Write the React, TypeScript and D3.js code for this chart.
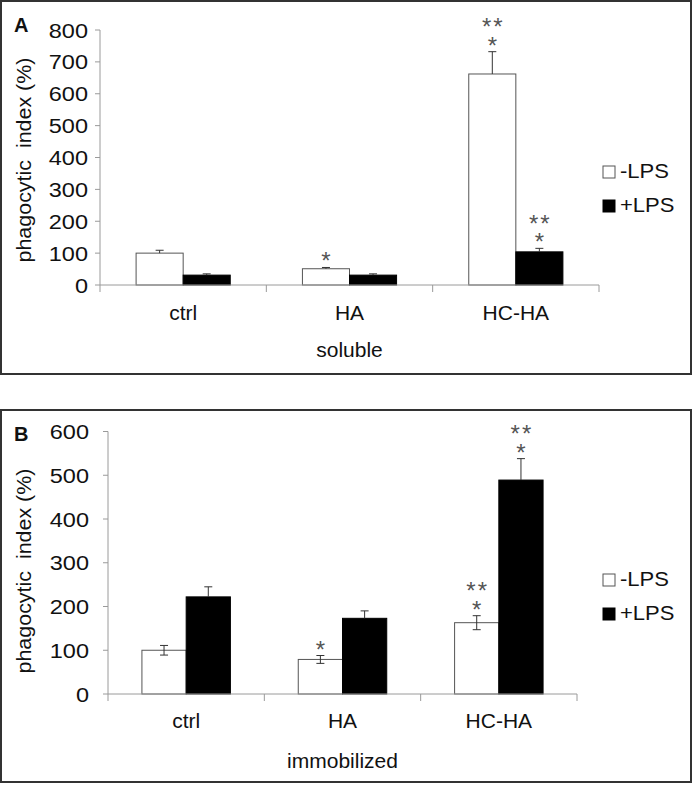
import React from "react";
import * as d3 from "d3";

const categories = ["ctrl", "HA", "HC-HA"];
const seriesNames = ["-LPS", "+LPS"];

// Panel A (soluble)
const solubleMinus = [100, 51, 662];
const solubleMinusErr = [9, 4, 70];
const solublePlus = [31, 31, 104];
const solublePlusErr = [4, 4, 11];
const solubleTicks = [0, 100, 200, 300, 400, 500, 600, 700, 800];
const solubleStars = [["", ""], ["*", ""], ["**|*", "**|*"]];

// Panel B (immobilized)
const immobMinus = [100, 79, 163];
const immobMinusErr = [11, 9, 16];
const immobPlus = [222, 173, 489];
const immobPlusErr = [23, 17, 49];
const immobTicks = [0, 100, 200, 300, 400, 500, 600];
const immobStars = [["", ""], ["*", ""], ["**|*", "**|*"]];

const FONT = "'Liberation Sans', Arial, Helvetica, sans-serif";

type PanelProps = {
  letter: string;
  xLabel: string;
  minus: number[];
  minusErr: number[];
  plus: number[];
  plusErr: number[];
  ticks: number[];
  stars: string[][];
  box: { x: number; y: number; w: number; h: number };
  x0: number;
  x1: number;
  yBottom: number;
  yTop: number;
  lowerErr: boolean;
  catBaseline: number;
  titleBaseline: number;
  legendY: number;
  letterY: number;
  yLabelCenter: number;
  tickLabelX: number;
};

function Panel(p: PanelProps) {
  const yMax = p.ticks[p.ticks.length - 1];
  const y = d3.scaleLinear().domain([0, yMax]).range([p.yBottom, p.yTop]);
  const x = d3.scaleBand<string>().domain(categories).range([p.x0, p.x1]);
  const bw = x.bandwidth() * 0.283;
  const values = [p.minus, p.plus];
  const errs = [p.minusErr, p.plusErr];
  const axisColor = "#9a9a9a";
  const capW = 8;
  const starGap = 18.5;

  return (
    <g>
      <rect x={p.box.x} y={p.box.y} width={p.box.w} height={p.box.h} fill="white" stroke="#333" strokeWidth={2} />
      <text x={14} y={p.letterY} fontFamily={FONT} fontWeight="bold" fontSize={20} fill="#111">{p.letter}</text>
      <text
        transform={`translate(31,${p.yLabelCenter}) rotate(-90) scale(1.1,1)`}
        textAnchor="middle"
        fontFamily={FONT}
        fontSize={19.5}
        fill="#111"
        style={{ whiteSpace: "pre" }}
      >
        phagocytic  index (%)
      </text>
      {/* y axis */}
      <line x1={p.x0} x2={p.x0} y1={y(yMax)} y2={y(0)} stroke={axisColor} strokeWidth={1} />
      {p.ticks.map((t) => (
        <g key={t}>
          <line x1={p.x0 - 5} x2={p.x0} y1={y(t)} y2={y(t)} stroke={axisColor} strokeWidth={1} />
          <text
            transform={`translate(${p.tickLabelX},${y(t) + 7.5}) scale(1.12,1)`}
            textAnchor="end"
            fontFamily={FONT}
            fontSize={21}
            fill="#111"
          >
            {t}
          </text>
        </g>
      ))}
      {/* bars */}
      {categories.map((c, i) => {
        const cx = (x(c) as number) + x.bandwidth() / 2;
        return (
          <g key={c}>
            {values.map((vals, s) => {
              const bx = cx - bw + s * bw;
              const v = vals[i];
              const e = errs[s][i];
              const midX = bx + bw / 2;
              const top = y(v);
              const errTop = y(v + e);
              const errBot = y(v - e);
              const showLower = p.lowerErr && s === 0;
              const starLines = p.stars[i][s] ? p.stars[i][s].split("|") : [];
              return (
                <g key={s}>
                  <rect
                    x={bx}
                    y={top}
                    width={bw}
                    height={y(0) - top}
                    fill={s === 0 ? "white" : "black"}
                    stroke={s === 0 ? "#555" : "black"}
                    strokeWidth={1}
                  />
                  <line x1={midX} x2={midX} y1={errTop} y2={showLower ? errBot : top} stroke="#333" strokeWidth={1} />
                  <line x1={midX - capW / 2} x2={midX + capW / 2} y1={errTop} y2={errTop} stroke="#333" strokeWidth={1} />
                  {showLower && (
                    <line x1={midX - capW / 2} x2={midX + capW / 2} y1={errBot} y2={errBot} stroke="#333" strokeWidth={1} />
                  )}
                  {starLines.length > 0 && (
                    <text
                      x={midX}
                      y={errTop + 2 - (starLines.length - 1) * starGap}
                      textAnchor="middle"
                      fontFamily={FONT}
                      fontSize={24}
                      fill="#555"
                      style={{ letterSpacing: "2px" }}
                    >
                      {starLines.map((ln, k) => (
                        <tspan key={k} x={midX + 1} dy={k === 0 ? 0 : starGap}>
                          {ln}
                        </tspan>
                      ))}
                    </text>
                  )}
                </g>
              );
            })}
            <text x={cx} y={p.catBaseline} textAnchor="middle" fontFamily={FONT} fontSize={21} fill="#111">
              {c}
            </text>
          </g>
        );
      })}
      {/* x axis */}
      <line x1={p.x0} x2={p.x1} y1={y(0)} y2={y(0)} stroke={axisColor} strokeWidth={1} />
      {[p.x0, ...categories.map((c) => (x(c) as number) + x.bandwidth())].map((tx, k) => (
        <line key={k} x1={tx} x2={tx} y1={y(0)} y2={y(0) + 7} stroke={axisColor} strokeWidth={1} />
      ))}
      <text x={(p.x0 + p.x1) / 2} y={p.titleBaseline} textAnchor="middle" fontFamily={FONT} fontSize={21} fill="#111">
        {p.xLabel}
      </text>
      {/* legend */}
      {seriesNames.map((n, s) => (
        <g key={n}>
          <rect
            x={603}
            y={p.legendY + s * 34 - 12}
            width={12}
            height={12}
            fill={s === 0 ? "white" : "black"}
            stroke={s === 0 ? "#555" : "black"}
            strokeWidth={1}
          />
          <text
            transform={`translate(620,${p.legendY + s * 34}) scale(1.1,1)`}
            fontFamily={FONT}
            fontSize={20}
            fill="#111"
          >
            {n}
          </text>
        </g>
      ))}
    </g>
  );
}

export default function App() {
  return (
    <svg width={693} height={785} style={{ position: "absolute", left: 0, top: 0, background: "white" }}>
      <rect x={0} y={0} width={693} height={785} fill="white" />
      <Panel
        letter="A"
        xLabel="soluble"
        minus={solubleMinus}
        minusErr={solubleMinusErr}
        plus={solublePlus}
        plusErr={solublePlusErr}
        ticks={solubleTicks}
        stars={solubleStars}
        box={{ x: 1, y: 1, w: 690, h: 373 }}
        x0={100}
        x1={599}
        yBottom={285}
        yTop={30}
        lowerErr={false}
        catBaseline={320}
        titleBaseline={357}
        legendY={178}
        letterY={32}
        yLabelCenter={160}
        tickLabelX={88}
      />
      <Panel
        letter="B"
        xLabel="immobilized"
        minus={immobMinus}
        minusErr={immobMinusErr}
        plus={immobPlus}
        plusErr={immobPlusErr}
        ticks={immobTicks}
        stars={immobStars}
        box={{ x: 1, y: 410, w: 690, h: 372 }}
        x0={108}
        x1={577}
        yBottom={694}
        yTop={431.5}
        lowerErr={true}
        catBaseline={728}
        titleBaseline={768}
        legendY={586}
        letterY={441}
        yLabelCenter={571}
        tickLabelX={89}
      />
    </svg>
  );
}
